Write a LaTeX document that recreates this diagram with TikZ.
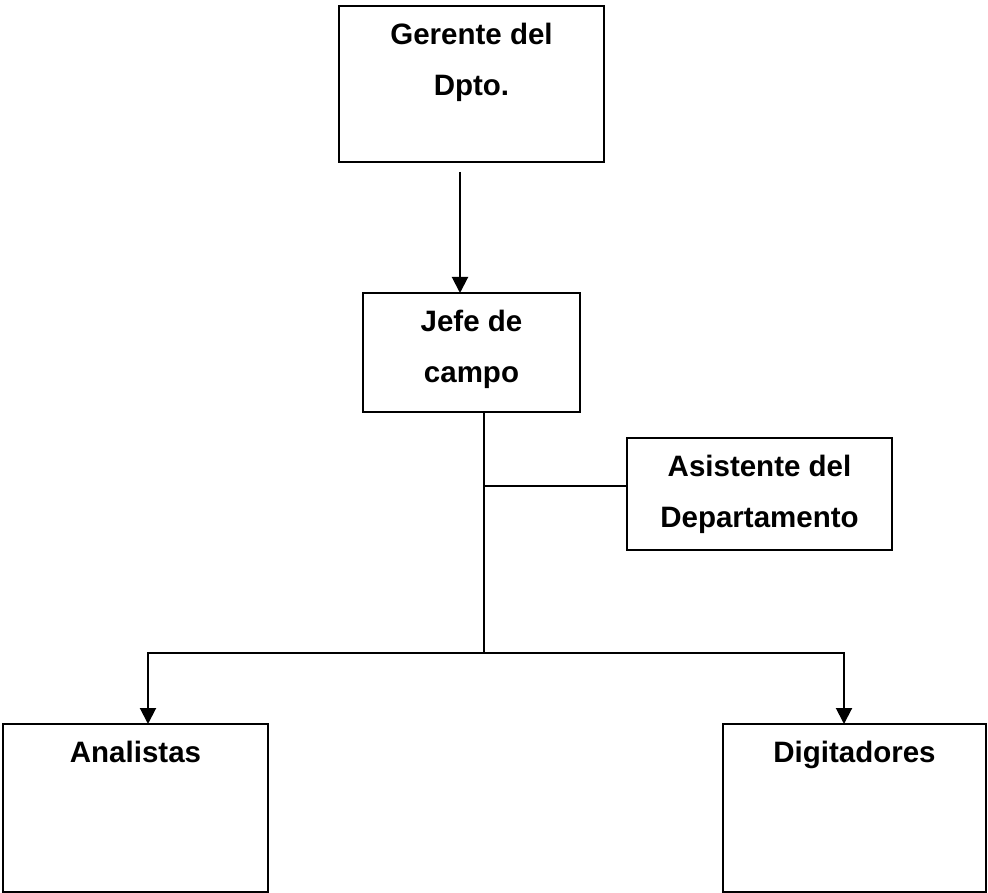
\documentclass[tikz,border=0pt]{standalone}
\usepackage{fontspec}
\setmainfont{Liberation Sans}
\usepackage{tikz}
\usetikzlibrary{arrows.meta}

\tikzset{
    orgbox/.style={draw, line width=2.2pt, outer sep=0pt, inner sep=0pt,
        minimum width=265pt},
    boxtext/.style={anchor=north, yshift=-16.5pt, inner sep=0pt, align=center,
        font=\fontsize{29.5}{51}\selectfont\bfseries},
    link/.style={line width=2pt},
    linkarrow/.style={line width=2pt, -{Triangle[length=16pt, width=16pt]}}
}

\begin{document}
\begin{tikzpicture}[x=1pt, y=-1pt]

    \useasboundingbox (0, 0) rectangle (988, 893);

    % boxes
    \node [orgbox, minimum height=156pt,
        label={[boxtext]north:{Gerente del\\Dpto.}}] (gerente) at (471.5, 84) {};
    \node [orgbox, minimum width=217pt, minimum height=119pt,
        label={[boxtext]north:{Jefe de\\campo}}] (jefe) at (471.5, 352.5) {};
    \node [orgbox, minimum height=112pt,
        label={[boxtext]north:{Asistente del\\Departamento}}] (asistente) at (759.5, 494) {};
    \node [orgbox, minimum height=168pt,
        label={[boxtext]north:{Analistas}}] (analistas) at (135.5, 808) {};
    \node [orgbox, minimum width=263pt, minimum height=168pt,
        label={[boxtext]north:{Digitadores}}] (digitadores) at (854.5, 808) {};

    % connectors
    \coordinate (gerenteout) at ([xshift=-11.5pt, yshift=-10pt] gerente.south);
    \coordinate (jefeout) at ([xshift=12.5pt] jefe.south);
    \coordinate (asistentein) at ([yshift=8pt] asistente.west);
    \coordinate (split) at (jefeout |- 0, 653);

    \draw [linkarrow] (gerenteout) -- (gerenteout |- jefe.north);
    \draw [link] (jefeout) -- (split);
    \draw [link] (jefeout |- asistentein) -- (asistentein);
    \draw [linkarrow] (split) -| ([xshift=12.5pt] analistas.north);
    \draw [linkarrow] (split) -| ([xshift=-10.5pt] digitadores.north);

\end{tikzpicture}
\end{document}
